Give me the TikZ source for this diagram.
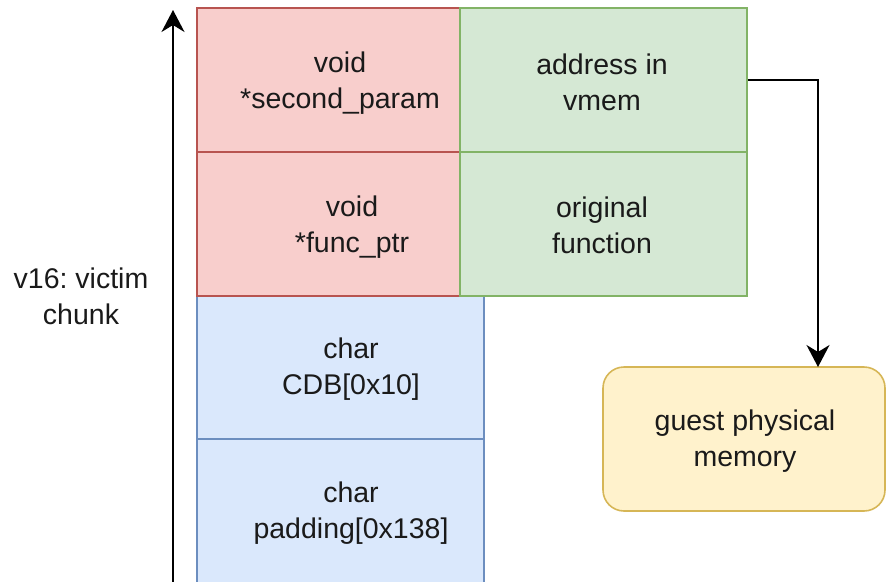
\documentclass[tikz,border=0pt]{standalone}
\usepackage{fontspec}
\setmainfont{Liberation Sans}
\usetikzlibrary{arrows.meta}
\frenchspacing

\definecolor{redfill}{HTML}{F8CECC}
\definecolor{redline}{HTML}{B85450}
\definecolor{greenfill}{HTML}{D5E8D4}
\definecolor{greenline}{HTML}{82B366}
\definecolor{bluefill}{HTML}{DAE8FC}
\definecolor{blueline}{HTML}{6C8EBF}
\definecolor{yellowfill}{HTML}{FFF2CC}
\definecolor{yellowline}{HTML}{D6B656}
\definecolor{inkcol}{HTML}{1A1A1A}

\tikzset{
  cell/.style={rectangle, inner sep=0pt, line width=1.6pt, minimum height=144pt},
  redcell/.style={cell, fill=redfill, draw=redline, minimum width=263pt},
  greencell/.style={cell, fill=greenfill, draw=greenline, minimum width=287pt},
  bluecell/.style={cell, fill=bluefill, draw=blueline, minimum width=287pt},
  memcell/.style={cell, fill=yellowfill, draw=yellowline, rounded corners=21pt, minimum width=282pt},
  txt/.style={align=center, inner sep=0pt, text=inkcol, font=\fontsize{28.5}{36}\selectfont},
  link/.style={line width=1.8pt, black, -{Stealth[length=22pt, width=23pt, inset=7pt]}},
}

\begin{document}
\begin{tikzpicture}[x=1pt, y=-1pt]
  \useasboundingbox (0,0) rectangle (886,581);

  % chunk layout, bottom rows first so the upper borders sit on top
  \node[bluecell] (btop) at (340.5,367.5) {};
  \node[bluecell, minimum height=145pt] (bbot) at (340.5,511.5) {};
  \node[redcell] (rtop) at (328.5,80) {};
  \node[redcell] (rbot) at (328.5,224) {};
  \node[greencell] (gtop) at (603.5,80) {};
  \node[greencell] (gbot) at (603.5,224) {};
  \node[memcell] (mem) at (744,439) {};

  % field labels
  \node[txt] (trtop) at (340,83) {void\\*second\_param};
  \node[txt] (trbot) at (352,227) {void\\*func\_ptr};
  \node[txt] (tgtop) at (602,82) {address in\\vmem};
  \node[txt] (tgbot) at (602,225) {original\\function};
  \node[txt] (tbtop) at (351,369) {char\\CDB[0x10]};
  \node[txt] (tbbot) at (351,513) {char\\padding[0x138]};
  \node[txt] (tmem) at (745,441) {guest physical\\memory};
  \node[txt] (chunk) at (81,296) {v16: victim\\chunk};

  % growth direction of the chunk
  \coordinate (axisfoot) at (173,590);
  \coordinate (axistip) at (173,10);
  \draw[link] (axisfoot) -- (axistip);

  % pointer into guest memory
  \coordinate (drop) at (818,367);
  \draw[link] (gtop.east) -| (drop);
\end{tikzpicture}
\end{document}
